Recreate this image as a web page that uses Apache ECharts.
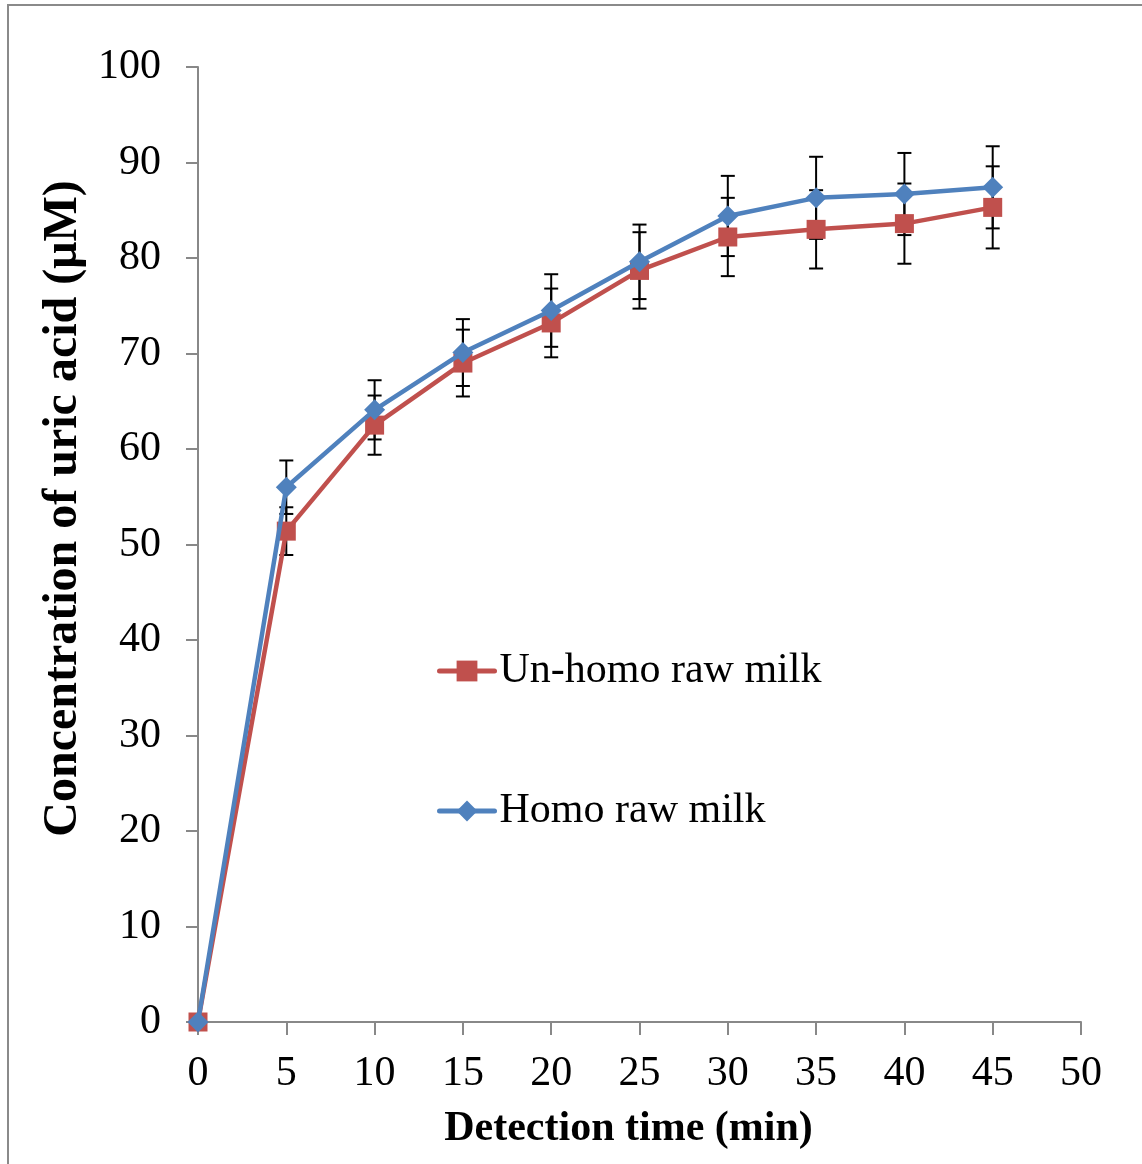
<!DOCTYPE html>
<html lang="en">
<head>
    <meta charset="UTF-8">
    <title>Uric acid detection</title>
    <script type="text/javascript" src="https://cdn.jsdelivr.net/npm/echarts@6/dist/echarts.min.js"></script>
    <style>
        html, body { margin: 0; padding: 0; background: #fff; }
    </style>
</head>
<body>
<div id="main" style="width: 1142px; height: 1164px;"></div>
<script type="text/javascript">
    "use strict"
    // detection time (min)
    var times = [0, 5, 10, 15, 20, 25, 30, 35, 40, 45];
    // concentration of uric acid (uM)
    var unhomo = [0, 51.4, 62.5, 69.0, 73.2, 78.7, 82.2, 83.0, 83.6, 85.3];
    var homo = [0, 56.0, 64.1, 70.1, 74.5, 79.6, 84.4, 86.3, 86.7, 87.4];
    // error bar half-heights
    var unhomoErr = [0, 2.5, 3.1, 3.5, 3.6, 4.0, 4.1, 4.1, 4.2, 4.3];
    var homoErr = [0, 2.8, 3.1, 3.5, 3.8, 3.9, 4.2, 4.3, 4.3, 4.3];

    var serif = '"Liberation Serif", "Times New Roman", serif';

    function pairs(ys) {
        return times.map(function (t, i) { return [t, ys[i]]; });
    }
    function errData(ys, errs) {
        return times.map(function (t, i) { return [t, ys[i], errs[i]]; });
    }

    function renderErr(params, api) {
        var x = api.value(0), y = api.value(1), e = api.value(2);
        if (!e) return;
        var top = api.coord([x, y + e]);
        var bot = api.coord([x, y - e]);
        var half = 7;
        var st = { stroke: '#000', lineWidth: 2 };
        return {
            type: 'group',
            children: [
                { type: 'line', shape: { x1: top[0], y1: top[1], x2: bot[0], y2: bot[1] }, style: st },
                { type: 'line', shape: { x1: top[0] - half, y1: top[1], x2: top[0] + half, y2: top[1] }, style: st },
                { type: 'line', shape: { x1: bot[0] - half, y1: bot[1], x2: bot[0] + half, y2: bot[1] }, style: st }
            ]
        };
    }

    var legendBase = {
        left: 432,
        itemWidth: 55, itemHeight: 26,
        lineStyle: { width: 5, cap: 'round' },
        textStyle: { fontFamily: serif, fontSize: 42, color: '#000' }
    };

    var myChart = echarts.init(document.getElementById('main'));
    var option = {
        animation: false,
        backgroundColor: '#fff',
        graphic: [{
            type: 'rect',
            shape: { x: 8, y: 5, width: 1300, height: 1300 },
            style: { fill: 'none', stroke: '#8a8a8a', lineWidth: 2 },
            silent: true
        }],
        grid: { left: 198, top: 67, right: 61, bottom: 142 },
        legend: [
            Object.assign({ data: ['Un-homo raw milk'], top: 645 }, legendBase),
            Object.assign({ data: ['Homo raw milk'], top: 785 }, legendBase)
        ],
        xAxis: {
            type: 'value',
            min: 0, max: 50, interval: 5,
            name: 'Detection time (min)',
            nameLocation: 'middle',
            nameGap: 86,
            nameTextStyle: { fontFamily: serif, fontSize: 42, fontWeight: 'bold', color: '#000', padding: [0, 22, 0, 0] },
            axisLine: { lineStyle: { color: '#888', width: 2 } },
            axisTick: { length: 13, lineStyle: { color: '#888', width: 2 } },
            axisLabel: { margin: 31, fontFamily: serif, fontSize: 42, color: '#000' },
            splitLine: { show: false }
        },
        yAxis: {
            type: 'value',
            min: 0, max: 100, interval: 10,
            name: 'Concentration of uric acid (\u03bcM)',
            nameLocation: 'middle',
            nameGap: 98,
            nameRotate: 90,
            nameTextStyle: { fontFamily: serif, fontSize: 48, fontWeight: 'bold', color: '#000', padding: [0, 0, 0, 72] },
            axisLine: { show: true, lineStyle: { color: '#888', width: 2 } },
            axisTick: { show: true, length: 12, lineStyle: { color: '#888', width: 2 } },
            axisLabel: { margin: 37, fontFamily: serif, fontSize: 42, color: '#000' },
            splitLine: { show: false }
        },
        series: [
            {
                name: 'unhomoErr',
                type: 'custom',
                renderItem: renderErr,
                data: errData(unhomo, unhomoErr),
                z: 1, clip: false, silent: true
            },
            {
                name: 'homoErr',
                type: 'custom',
                renderItem: renderErr,
                data: errData(homo, homoErr),
                z: 1, clip: false, silent: true
            },
            {
                name: 'Un-homo raw milk',
                type: 'line',
                data: pairs(unhomo),
                symbol: 'rect',
                symbolSize: 19,
                color: '#C0504D',
                lineStyle: { width: 4.5, color: '#C0504D' },
                itemStyle: { color: '#C0504D' },
                clip: false,
                z: 3
            },
            {
                name: 'Homo raw milk',
                type: 'line',
                data: pairs(homo),
                symbol: 'diamond',
                symbolSize: 21,
                color: '#4F81BD',
                lineStyle: { width: 4.5, color: '#4F81BD' },
                itemStyle: { color: '#4F81BD' },
                clip: false,
                z: 4
            }
        ]
    };
    myChart.setOption(option);
</script>
</body>
</html>
